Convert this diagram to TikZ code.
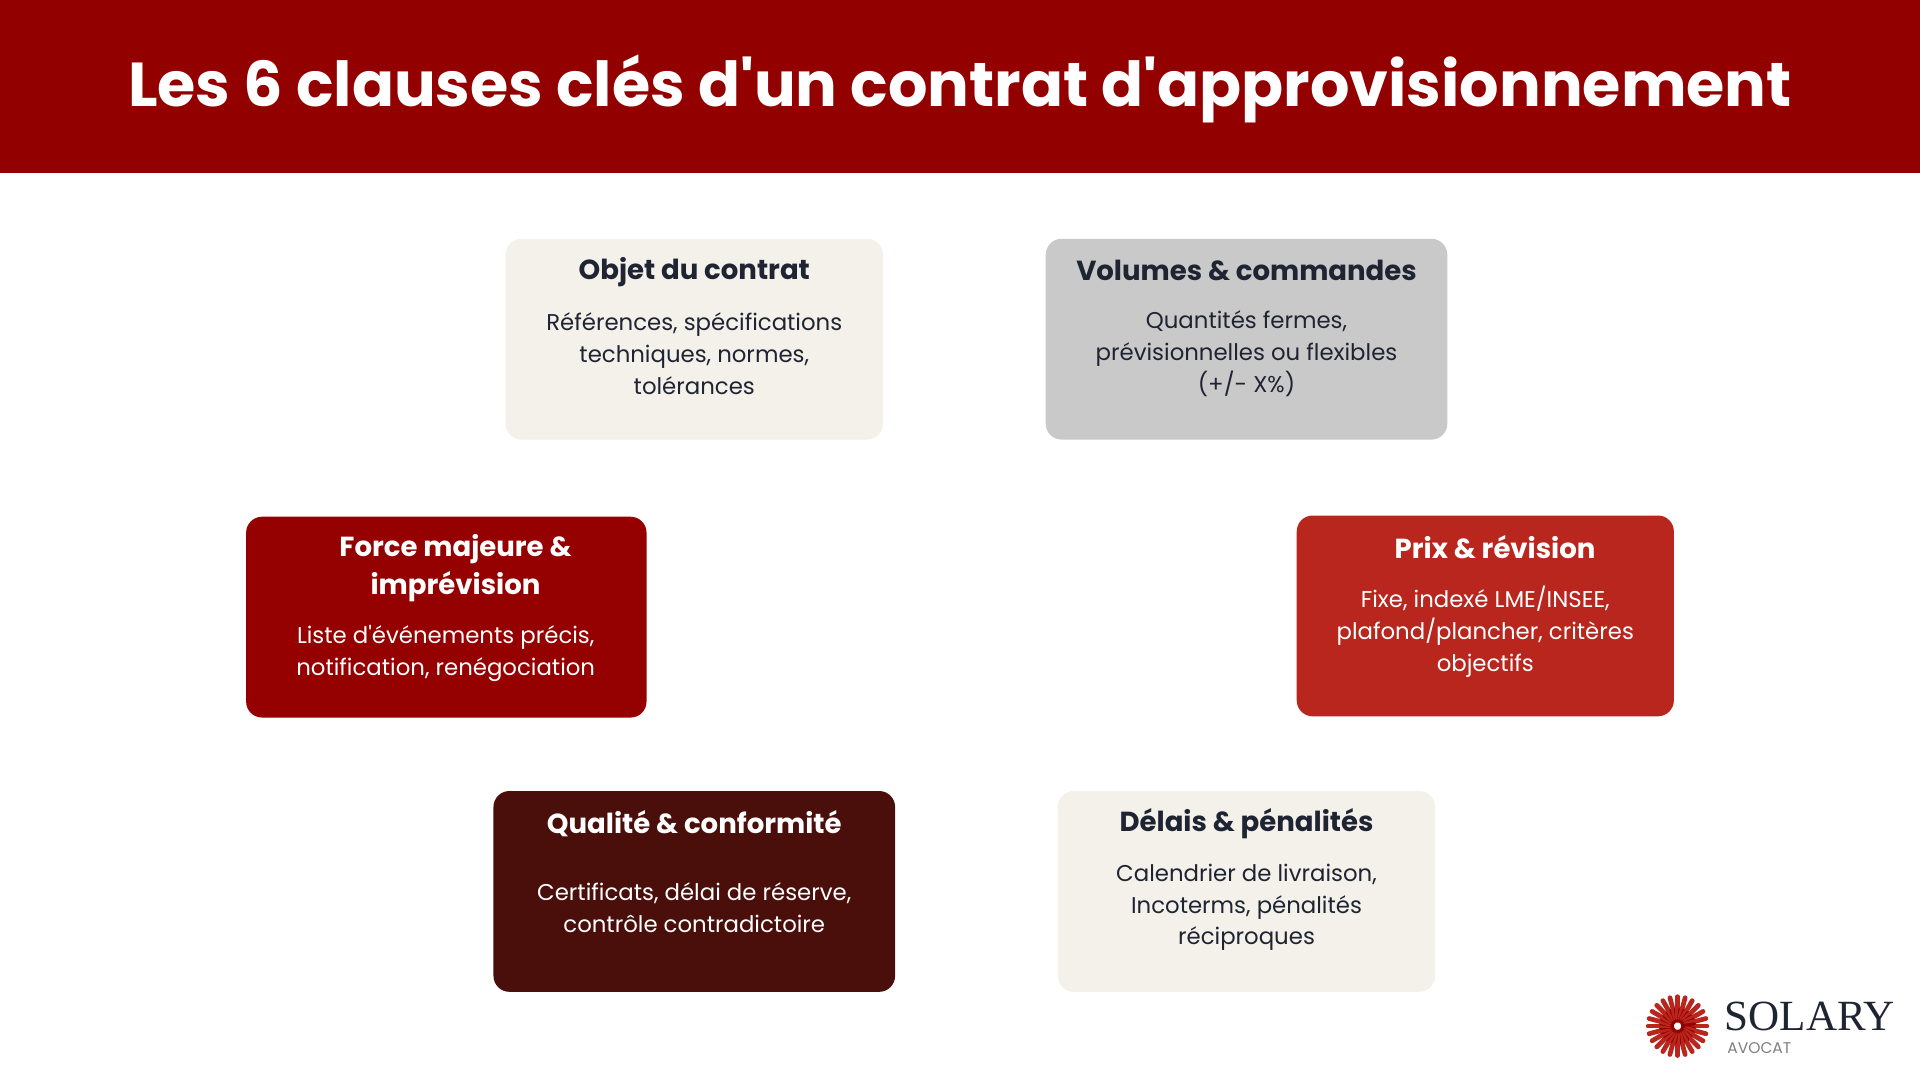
\documentclass[tikz,border=0pt]{standalone}
\usepackage{fontspec}
\setmainfont{Poppins}
\newfontfamily\logofont{Liberation Serif}
\definecolor{bar}{HTML}{930000}
\definecolor{cream}{HTML}{F4F0EA}
\definecolor{greyb}{HTML}{C9C9C9}
\definecolor{redA}{HTML}{950000}
\definecolor{redB}{HTML}{B8261E}
\definecolor{brownC}{HTML}{4A0F0A}
\definecolor{ink}{HTML}{1F2433}
\newcommand{\ap}{\XeTeXglyph\XeTeXglyphindex "quotesingle"\relax}
\tikzset{
 box/.style={rounded corners=0.13cm,draw=none},
 ttl/.style={font=\fontsize{6.4pt}{8.8pt}\selectfont\bfseries,align=center},
 bdy/.style={font=\fontsize{5.3pt}{7.4pt}\selectfont,align=center},
}
\begin{document}
\begin{tikzpicture}[x=0.01cm,y=-0.01cm]
\useasboundingbox (0,0) rectangle (1568,882);
\fill[white] (0,0) rectangle (1568,882);
\fill[bar] (0,0) rectangle (1568,141);
\node[white,font=\fontsize{14.4pt}{16pt}\selectfont\bfseries] (title) at (784,73) {Les 6 clauses clés d\ap un contrat d\ap approvisionnement};
% boxes
\fill[box,cream] (413,195) rectangle (721,359);
\node[ttl,ink] (t1) at (567,222) {Objet du contrat};
\node[bdy,ink] (b1) at (567,289) {Références, spécifications\\techniques, normes,\\tolérances};
\fill[box,greyb] (854,195) rectangle (1182,359);
\node[ttl,ink] (t2) at (1018,221) {Volumes \& commandes};
\node[bdy,ink] (b2) at (1018,289) {Quantités fermes,\\prévisionnelles ou flexibles\\(+/- X\%)};
\fill[box,redA] (201,422) rectangle (528,586);
\node[ttl,white] (t3) at (372,464) {Force majeure \&\\imprévision};
\node[bdy,white] (b3) at (364,534) {Liste d\ap événements précis,\\notification, renégociation};
\fill[box,redB] (1059,421) rectangle (1367,585);
\node[ttl,white] (t4) at (1221,447) {Prix \& révision};
\node[bdy,white] (b4) at (1213,516) {Fixe, indexé LME/INSEE,\\plafond/plancher, critères\\objectifs};
\fill[box,brownC] (403,646) rectangle (731,810);
\node[ttl,white] (t5) at (567,673) {Qualité \& conformité};
\node[bdy,white] (b5) at (567,741) {Certificats, délai de réserve,\\contrôle contradictoire};
\fill[box,cream] (864,646) rectangle (1172,810);
\node[ttl,ink] (t6) at (1018,673) {Délais \& pénalités};
\node[bdy,ink] (b6) at (1018,741) {Calendrier de livraison,\\Incoterms, pénalités\\réciproques};
% logo
\foreach \a in {0,15,...,345}{
 \draw[redB,line width=1.1pt,line cap=round] (1370,838) ++(\a:7) -- ++(\a:17);
 \draw[redA,line width=0.7pt,line cap=round] (1370,838) ++(\a+7.5:4) -- ++(\a+7.5:10);
}
\node[ink,font=\logofont\fontsize{10pt}{10pt}\selectfont,anchor=west,inner sep=0] (logo) at (1408,830) {SOLARY};
\node[gray,font=\fontsize{3.6pt}{4pt}\selectfont,anchor=west,inner sep=0] (avocat) at (1410,856) {AVOCAT};
\end{tikzpicture}
\end{document}
